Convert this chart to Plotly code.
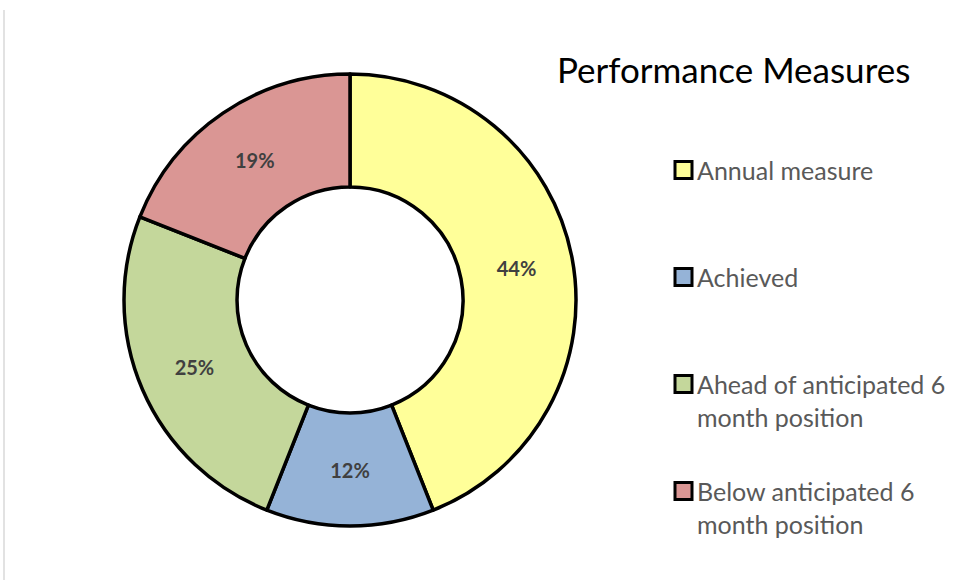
import plotly.graph_objects as go

categories = ["Annual measure", "Achieved", "Ahead of anticipated 6 month position", "Below anticipated 6 month position"]
legend_text = ["Annual measure", "Achieved", "Ahead of anticipated 6<br>month position", "Below anticipated 6<br>month position"]
values = [44, 12, 25, 19]
colors = ["#FFFF99", "#95B3D7", "#C4D79B", "#DA9694"]

W, H = 953, 580
FONT = "Lato"

def px(x):
    return x / W

def py(y):
    return 1 - y / H

fig = go.Figure()
fig.add_trace(go.Pie(
    labels=categories,
    values=values,
    hole=0.5,
    sort=False,
    direction="clockwise",
    rotation=0,
    marker=dict(colors=colors, line=dict(color="black", width=3.5)),
    textinfo="percent",
    texttemplate="%{percent:.0%}",
    textposition="inside",
    insidetextorientation="horizontal",
    textfont=dict(family=FONT, size=20, color="#404040", weight="bold"),
    showlegend=False,
    domain=dict(x=[px(124), px(576)], y=[py(526), py(74)]),
    hoverinfo="label+percent",
))

shapes = [dict(type="line", xref="paper", yref="paper",
               x0=px(4), x1=px(4), y0=py(10), y1=0,
               line=dict(color="#D9D9D9", width=1.5))]
annotations = [dict(text="Performance Measures", xref="paper", yref="paper",
                    x=px(555), y=py(69), xanchor="left", yanchor="middle",
                    showarrow=False, font=dict(family=FONT, size=35, color="#000000"))]

y0 = 170
gap = 107
FS = 25
for i, (lab, col) in enumerate(zip(legend_text, colors)):
    yc = y0 + i * gap
    shapes.append(dict(type="rect", xref="paper", yref="paper",
                       x0=px(675), x1=px(692), y0=py(yc + 8.5), y1=py(yc - 8.5),
                       fillcolor=col, line=dict(color="black", width=3)))
    annotations.append(dict(text=lab, xref="paper", yref="paper",
                            x=px(695), y=py(yc - 1 - 0.65 * FS), xanchor="left", yanchor="top",
                            align="left", showarrow=False,
                            font=dict(family=FONT, size=FS, color="#595959")))

fig.update_layout(
    width=W, height=H,
    margin=dict(l=0, r=0, t=0, b=0),
    paper_bgcolor="white", plot_bgcolor="white",
    shapes=shapes, annotations=annotations,
)

fig.write_html("out.html", config={"displayModeBar": False},
               post_script="document.body.style.margin='0';document.body.style.padding='0';")
